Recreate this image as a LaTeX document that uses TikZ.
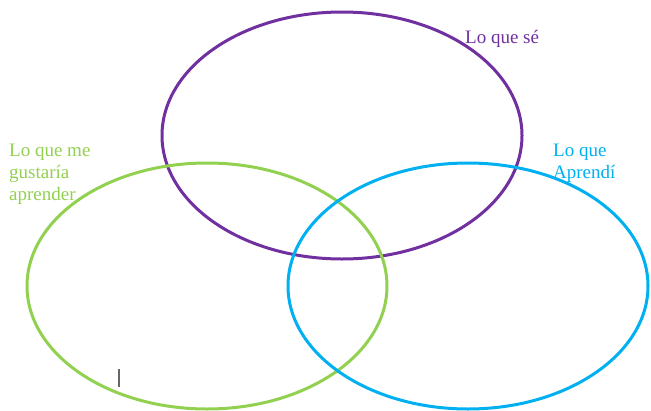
\documentclass[tikz,border=0pt]{standalone}
\usepackage{fontspec}
\setmainfont{Liberation Serif}
\definecolor{cpurple}{HTML}{7030A0}
\definecolor{cgreen}{HTML}{92D050}
\definecolor{cblue}{HTML}{00B0F0}
\begin{document}
\begin{tikzpicture}[x=1pt,y=-1pt,
  ring/.style={line width=3pt},
  lbl/.style={anchor=base west,inner sep=0pt,align=left,font=\fontsize{19}{22}\selectfont}]
\useasboundingbox (0,0) rectangle (651,410);
\draw[ring,cpurple] (342,135.5) ellipse [x radius=180, y radius=123.5];
\draw[ring,cgreen] (207,286) ellipse [x radius=180, y radius=123];
\draw[ring,cblue] (468,286) ellipse [x radius=180, y radius=123];
\node[lbl,text=cpurple] (sabe) at (465,43) {Lo que sé};
\node[lbl,text=cgreen] (gust) at (9,200) {Lo que me\\gustaría\\aprender};
\node[lbl,text=cblue] (apr) at (553,178) {Lo que\\Aprendí};
\coordinate (c1) at (119,369);
\coordinate (c2) at (119,387);
\draw[line width=1.3pt,gray!80!black] (c1) -- (c2);
\end{tikzpicture}
\end{document}
